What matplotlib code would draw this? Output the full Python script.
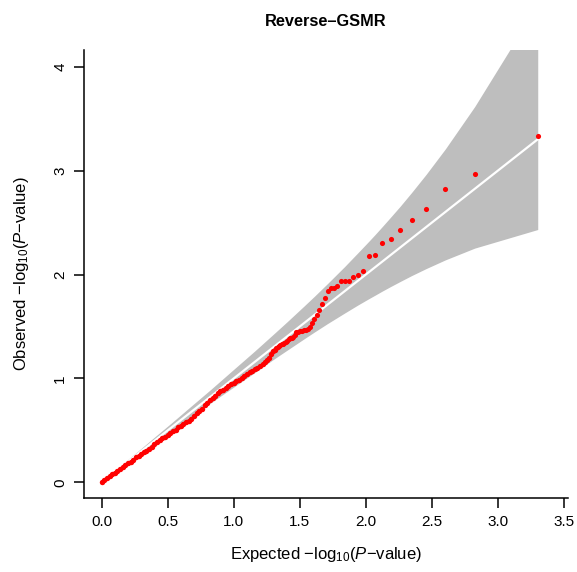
import numpy as np
import matplotlib.pyplot as plt

plt.rcParams['font.family'] = ['Liberation Sans', 'DejaVu Sans']
plt.rcParams['mathtext.fontset'] = 'custom'
plt.rcParams['mathtext.rm'] = 'Liberation Sans'
plt.rcParams['mathtext.it'] = 'Liberation Sans:italic'
plt.rcParams['mathtext.bf'] = 'Liberation Sans:bold'

# 95% band of expected -log10(P) for 1000 SNPs (ranks 1 .. 1000)
band_x = [3.301, 2.824, 2.602, 2.456, 2.347, 2.260, 2.187, 2.125, 2.071, 2.022,
          1.939, 1.839, 1.710, 1.611, 1.530, 1.403, 1.305, 1.158, 1.002, 0.825,
          0.700, 0.524, 0.398, 0.3015, 0.222, 0.155, 0.097, 0.046, 0.0225, 0.0002]
band_upper = [4.597, 3.616, 3.209, 2.963, 2.790, 2.657, 2.551, 2.462, 2.386, 2.319,
              2.208, 2.076, 1.913, 1.791, 1.694, 1.544, 1.431, 1.263, 1.090, 0.893,
              0.758, 0.567, 0.433, 0.329, 0.245, 0.173, 0.111, 0.055, 0.0287, 0.0016]
band_lower = [2.433, 2.254, 2.141, 2.057, 1.990, 1.933, 1.884, 1.841, 1.802, 1.767,
              1.706, 1.629, 1.528, 1.447, 1.379, 1.271, 1.187, 1.056, 0.919, 0.764,
              0.646, 0.484, 0.367, 0.275, 0.201, 0.138, 0.084, 0.037, 0.0164, 0.00001]

# top-ranked SNPs
tail_expected = [3.301, 2.824, 2.602, 2.456, 2.347, 2.260, 2.187, 2.125, 2.071, 2.022,
                 1.979, 1.939, 1.903, 1.870, 1.839, 1.810, 1.783, 1.757, 1.733, 1.710,
                 1.688, 1.668, 1.648, 1.629, 1.611, 1.594, 1.577, 1.561, 1.545, 1.530,
                 1.516, 1.502, 1.488, 1.475, 1.462, 1.450, 1.438, 1.426, 1.415, 1.403,
                 1.392, 1.382, 1.372, 1.362, 1.352, 1.342, 1.333, 1.323]
tail_observed = [3.33, 2.97, 2.82, 2.63, 2.52, 2.43, 2.34, 2.30, 2.19, 2.18,
                 2.03, 2.00, 1.98, 1.936, 1.936, 1.936, 1.885, 1.875, 1.866, 1.843,
                 1.775, 1.712, 1.662, 1.607, 1.568, 1.532, 1.494, 1.478, 1.470, 1.465,
                 1.458, 1.452, 1.448, 1.444, 1.420, 1.400, 1.392, 1.388, 1.375, 1.362,
                 1.350, 1.340, 1.335, 1.330, 1.318, 1.308, 1.300, 1.290]

# bulk of the SNPs
bulk_expected = [1.31, 1.30, 1.285, 1.27, 1.255, 1.24, 1.22, 1.20, 1.18, 1.16,
                 1.14, 1.12, 1.10, 1.08, 1.06, 1.04, 1.02, 1.00, 0.98, 0.96,
                 0.94, 0.92, 0.90, 0.88, 0.86, 0.84, 0.82, 0.80, 0.78, 0.76,
                 0.74, 0.72, 0.70, 0.68, 0.66, 0.64, 0.62, 0.60, 0.58, 0.56,
                 0.54, 0.52, 0.50, 0.48, 0.46, 0.44, 0.42, 0.40, 0.38, 0.36,
                 0.34, 0.32, 0.30, 0.28, 0.26, 0.24, 0.22, 0.20, 0.18, 0.16,
                 0.14, 0.12, 0.10, 0.08, 0.06, 0.04, 0.02, 0.005]
bulk_observed = [1.276, 1.262, 1.235, 1.20, 1.175, 1.16, 1.14, 1.12, 1.10, 1.09,
                 1.075, 1.065, 1.04, 1.02, 1.00, 0.985, 0.975, 0.96, 0.945, 0.93,
                 0.91, 0.89, 0.875, 0.86, 0.835, 0.81, 0.79, 0.765, 0.745, 0.71,
                 0.685, 0.665, 0.635, 0.61, 0.595, 0.58, 0.565, 0.545, 0.53, 0.505,
                 0.49, 0.475, 0.46, 0.44, 0.425, 0.41, 0.39, 0.365, 0.345, 0.325,
                 0.305, 0.29, 0.27, 0.255, 0.24, 0.22, 0.20, 0.185, 0.165, 0.148,
                 0.13, 0.112, 0.095, 0.078, 0.058, 0.04, 0.02, 0.004]

fig = plt.figure(figsize=(5.77, 5.72), dpi=100)
ax = fig.add_axes([84/577, 1 - 498/572, (568 - 84)/577, (498 - 50)/572])

ax.fill_between(band_x, band_lower, band_upper, color='#bebebe', lw=0)
ax.plot([0, max(band_x)], [0, max(band_x)], color='white', lw=1.6)
ax.plot(bulk_expected, bulk_observed, 'o', color='red', ms=3.9, mec='none')
ax.plot(tail_expected, tail_observed, 'o', color='red', ms=3.7, mec='none')

ax.set_xlim(-0.133, 3.53)
ax.set_ylim(-0.15, 4.16)
ax.set_xticks([0, 0.5, 1, 1.5, 2, 2.5, 3, 3.5])
ax.set_xticklabels(['0.0', '0.5', '1.0', '1.5', '2.0', '2.5', '3.0', '3.5'])
ax.set_yticks([0, 1, 2, 3, 4])
for lbl in ax.get_yticklabels():
    lbl.set_rotation(90)
    lbl.set_va('center')

ax.spines['top'].set_visible(False)
ax.spines['right'].set_visible(False)
for s in ['left', 'bottom']:
    ax.spines[s].set_linewidth(1.1)
ax.tick_params(direction='out', length=7, width=1.1, labelsize=11, pad=5)

ax.set_xlabel(r'Expected $-$log$_{10}$($\mathit{P}$$-$value)', fontsize=12, labelpad=12)
ax.set_ylabel(r'Observed $-$log$_{10}$($\mathit{P}$$-$value)', fontsize=12, labelpad=16)
ax.set_title('Reverse\u2013GSMR', fontsize=11.8, fontweight='bold', pad=17)

fig.savefig('out.png', dpi=100)
